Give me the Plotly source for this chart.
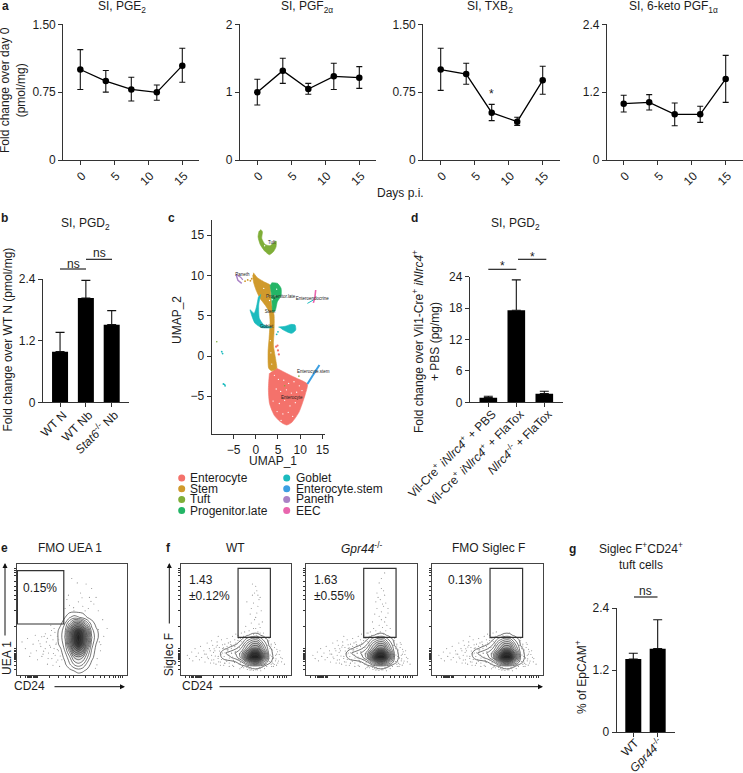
import plotly.graph_objects as go

W, H = 743, 773
FONT = "Liberation Sans"
INK = "#1c1c1c"
AXC = "#333333"

# ---------- panel a ----------
days = [0, 3.75, 7.5, 11.25, 15]
day_ticks = [0, 5, 10, 15]
pge2_mean = [1.00, 0.873, 0.78, 0.748, 1.043]
pge2_hi = [1.22, 0.99, 0.914, 0.829, 1.235]
pge2_lo = [0.78, 0.75, 0.652, 0.66, 0.859]
pgf2a_mean = [1.00, 1.317, 1.047, 1.233, 1.214]
pgf2a_hi = [1.19, 1.50, 1.13, 1.425, 1.376]
pgf2a_lo = [0.81, 1.13, 0.968, 1.04, 1.056]
txb2_mean = [1.00, 0.95, 0.523, 0.424, 0.881]
txb2_hi = [1.235, 1.069, 0.615, 0.472, 1.036]
txb2_lo = [0.77, 0.837, 0.435, 0.383, 0.726]
keto_mean = [0.997, 1.02, 0.808, 0.808, 1.433]
keto_hi = [1.144, 1.156, 1.008, 0.95, 1.85]
keto_lo = [0.85, 0.885, 0.607, 0.666, 1.02]

# ---------- panel b ----------
b_labels = ["WT N", "WT Nb", "<i>Stat6</i><sup>-/-</sup> Nb"]
b_values = [0.986, 2.03, 1.511]
b_upper = [1.362, 2.374, 1.784]

# ---------- panel d ----------
d_labels = ["Vil-Cre<sup>+</sup> <i>iNlrc4</i><sup>+</sup> + PBS",
            "Vil-Cre<sup>+</sup> <i>iNlrc4</i><sup>+</sup> + FlaTox",
            "<i>Nlrc4</i><sup>-/-</sup> + FlaTox"]
d_values = [0.89, 17.6, 1.65]
d_upper = [1.15, 23.4, 2.1]

# ---------- panel g ----------
g_labels = ["WT", "<i>Gpr44</i><sup>-/-</sup>"]
g_values = [1.413, 1.613]
g_upper = [1.523, 2.174]

# ---------- panel c: cluster outlines, UMAP units ----------
cluster_names = ["Enterocyte", "Stem", "Tuft", "Progenitor.late",
                 "Goblet", "Enterocyte.stem", "Paneth", "EEC"]
cluster_colors = ["#F4726B", "#D09A2C", "#7FAE38", "#23B566",
                  "#1BBBBE", "#3C9FE2", "#AA82C6", "#E966AE"]
enterocyte_x = [4.72, 6.22, 7.8, 9.21, 11.61, 11.09, 10.34, 9.7, 8.84, 8.0, 6.97, 6.0, 5.09, 4.2, 3.6, 3.1, 2.92, 2.85, 2.92, 3.07]
enterocyte_y = [-1.53, -1.95, -2.4, -2.77, -3.48, -4.84, -6.09, -7.0, -7.74, -8.3, -8.57, -8.35, -7.95, -7.4, -6.71, -5.9, -5.05, -4.1, -3.19, -2.15]
stem_x = [-0.52, 0.37, 2.10, 3.22, 3.37, 3.60, 4.12, 4.12, 3.97, 4.57, 4.72, 3.60, 2.92, 2.77, 3.00, 3.22, 3.00, 2.10, 0.97, 0.07, -0.52, -0.67]
stem_y = [10.35, 9.73, 9.15, 8.82, 7.58, 6.34, 5.09, 3.02, 1.37, -0.70, -1.53, -1.86, -1.53, 0.54, 2.19, 4.27, 5.51, 6.34, 7.16, 8.20, 9.23, 10.06]
tuft_x = [1.12, 1.50, 1.35, 2.10, 3.22, 4.57, 4.57, 3.97, 3.07, 2.02, 1.0, 0.52, 0.75]
tuft_y = [15.73, 15.45, 14.62, 13.87, 13.71, 14.29, 13.58, 12.96, 12.59, 13.04, 13.87, 14.82, 15.53]
prog_x = [3.60, 4.87, 5.69, 5.69, 4.87, 4.34, 3.82, 3.67, 3.45, 3.22]
prog_y = [9.11, 9.03, 8.41, 7.49, 6.75, 5.59, 5.51, 6.54, 7.91, 8.82]
goblet_a_x = [1.12, 0.67, 0.82, 1.72, 3.60, 1.35, -0.15, -0.82, -1.27, -0.37, 0.07, 0.60]
goblet_a_y = [7.66, 6.34, 4.68, 3.93, 3.52, 3.52, 4.06, 4.89, 5.76, 5.30, 5.92, 7.37]
goblet_b_x = [5.09, 6.59, 7.87, 8.84, 8.99, 8.09, 6.97, 5.84]
goblet_b_y = [3.60, 3.69, 3.93, 3.85, 3.23, 2.82, 3.02, 3.35]
estem_x = [14.31, 12.96, 11.61]
estem_y = [-1.12, -2.36, -3.48]
paneth_a_x = [-4.42, -4.0, -3.15]
paneth_a_y = [10.14, 9.4, 9.03]
paneth_b_x = [-4.42, -3.4, -2.9]
paneth_b_y = [10.14, 9.8, 9.45]
eec_x = [13.48, 13.3, 12.96]
eec_y = [8.2, 7.3, 6.6]
eec_cyan_x = [11.61, 12.96]
eec_cyan_y = [6.54, 6.96]
stray_stem_x = [-2.4, -1.8, -1.2, -0.9]
stray_stem_y = [9.3, 9.45, 9.35, 9.6]
stray_goblet_x = [-7.64, -7.45, -7.27, -7.0, -6.89, 5.0, 4.7]
stray_goblet_y = [0.54, 0.3, -3.48, -3.55, -3.7, 3.0, 2.7]
stray_tuft_x = [-8.76, 6.5, 9.7]
stray_tuft_y = [1.78, -3.7, -2.5]
stray_entero_x = [4.57, 5.0, 5.2, 4.9]
stray_entero_y = [1.16, 0.7, 0.2, 1.3]
white_x = [4.2, 5.1, 6.3, 7.4, 8.6, 9.8, 4.6, 5.6, 6.9, 8.0, 9.2, 10.4, 3.9, 5.3, 6.5, 7.7, 8.9, 4.8, 6.1, 7.3, 8.3, 5.7, 3.6, 3.4, 3.3, 3.7, 1.8, 2.6, 3.1, 4.7, 4.3, 2.5, 3.9, 2.0]
white_y = [-2.4, -2.9, -3.0, -3.4, -3.2, -3.7, -4.1, -4.4, -4.2, -4.6, -4.5, -4.3, -5.6, -5.9, -5.5, -6.2, -5.8, -6.9, -7.2, -7.0, -7.5, -8.0, -1.0, 0.4, 1.9, 7.0, 8.4, 7.4, 6.9, 8.3, 7.5, 14.2, 14.9, 13.7]

cluster_text = ["Tuft", "Paneth", "Progenitor.late", "Enteroendocrine", "Stem", "Goblet", "Enterocyte.stem", "Enterocyte"]
cluster_text_x = [3.6, -3.0, 5.6, 12.7, 3.2, 2.47, 12.95, 8.1]
cluster_text_y = [14.07, 10.06, 7.37, 7.08, 5.43, 3.6, -2.03, -5.26]

# ---------- panels e, f: density grids and events (0-100 box units) ----------
e_grid_x = [36, 40, 44, 48, 52, 56, 60, 64, 68, 72, 76]
e_grid_y = [0, 4, 10, 16, 22, 28, 34, 40, 46, 52, 58]
e_grid_z = [
    [0, 0, 0, 0, 0, 0, 0, 0, 0, 0, 0],
    [0, 0, 0, 0, .3, .6, .4, .1, 0, 0, 0],
    [0, 0, .2, 1, 2, 2.5, 2, .8, .1, 0, 0],
    [0, 0, .5, 1.7, 3.5, 4, 3.5, 2, .5, 0, 0],
    [0, .1, 1.2, 3, 6, 7, 6, 3, 1, 0, 0],
    [0, .6, 1.6, 5, 8, 9.5, 8, 5, 1.5, .3, 0],
    [0, .8, 2, 5.5, 8.5, 10.7, 8.5, 5.5, 2, .6, 0],
    [0, .7, 1.8, 5, 8, 9, 8, 5, 1.5, .5, 0],
    [0, .2, 1.2, 3, 5, 5.5, 4.5, 2.5, .8, .1, 0],
    [0, 0, .3, 1, 1.5, 1.2, .8, .3, 0, 0, 0],
    [0, 0, 0, 0, 0, 0, 0, 0, 0, 0, 0],
]
e_dots_x = [5, 8, 10, 13, 15, 17, 18, 20, 22, 23, 25, 26, 27, 29, 30, 31, 32, 33, 34, 35, 36, 37, 38, 12, 19, 24, 28, 33, 36, 44, 48, 52, 56, 60, 65, 70, 74, 47, 58, 63, 68, 72, 50, 55, 66, 78, 82, 75, 73, 39, 41, 42, 34, 31, 76, 79,
            21.3, 24.6, 27.9, 30.8, 33.4, 35.7, 36.9, 38.2, 39.6, 37.4, 34.8, 31.7, 28.6, 26.1, 22.8, 74.2, 76.3, 72.8, 71.4, 45.6, 51.7, 59.3, 62.1, 67.4]
e_dots_y = [30, 24, 33, 20, 28, 36, 22, 31, 26, 17, 35, 24, 30, 20, 27, 36, 15, 32, 24, 18, 29, 35, 22, 17, 14, 19, 10, 9, 12, 60, 63, 58, 66, 62, 60, 64, 58, 72, 74, 82, 78, 70, 87, 83, 70, 50, 42, 30, 15, 8, 14, 48, 42, 45, 22, 35,
            28.4, 21.7, 33.2, 25.3, 19.6, 27.8, 23.1, 31.9, 17.4, 13.8, 38.6, 40.2, 15.1, 37.3, 34.7, 41.2, 27.6, 9.4, 6.3, 68.1, 60.8, 69.7, 57.9, 66.4]
f_grid_x = [30, 35, 40, 45, 50, 55, 60, 65, 70, 75, 80, 85]
f_grid_y = [4, 8, 12, 16, 20, 24, 28, 32, 36, 40]
f_grid_z = [
    [0, 0, 0, 0, 0, 0, 0, 0, 0, 0, 0, 0],
    [0, 0, 0, 0, 0, 0, .3, .6, .6, .3, 0, 0],
    [0, 0, 0, 0, .3, 1, 3, 5, 5, 3, .5, 0],
    [0, .1, .6, 1, 1.5, 3, 7, 10.7, 10.7, 6, 1, 0],
    [0, .1, 1, 1.5, 2, 3, 6, 9, 9, 5, .8, 0],
    [0, 0, .2, .5, 1, 2, 4, 6, 6, 3, .5, 0],
    [0, 0, 0, 0, .2, 1, 3, 4.5, 4.5, 2, .2, 0],
    [0, 0, 0, 0, 0, .3, 1.5, 2.5, 2.5, 1, 0, 0],
    [0, 0, 0, 0, 0, 0, .2, .5, .5, .1, 0, 0],
    [0, 0, 0, 0, 0, 0, 0, 0, 0, 0, 0, 0],
]
f_dots_x = [6, 8, 10, 11, 13, 14, 16, 17, 18, 19, 21, 22, 23, 24, 25, 26, 27, 28, 29, 30, 31, 32, 33, 34, 35, 36, 37, 38, 39, 40, 41, 42, 43, 44, 45, 46, 47, 48, 49, 50, 51, 52, 53, 54, 55, 56, 57, 58, 60, 62, 64, 68, 72, 76, 78, 79, 80, 81, 82, 83, 84, 85, 86, 87, 88, 90, 92, 94, 28, 34, 38, 42, 46, 50, 54, 30, 36, 44, 48, 52, 40, 47, 55, 82, 84, 80, 86, 78, 83, 77,
            21.5, 24.2, 26.8, 28.1, 29.7, 31.4, 32.2, 33.9, 35.3, 36.6, 37.1, 38.8, 39.4, 40.2, 41.7, 42.3, 43.6, 44.1, 45.9, 46.2, 47.7, 48.3, 49.5, 50.6, 51.2, 52.8, 53.1, 54.7, 55.3, 56.9, 57.4, 58.2, 59.6, 34.5, 37.9, 41.1, 43.2, 46.8, 49.1, 51.9, 54.2, 30.3, 33.1, 36.2, 39.9, 42.8, 45.4, 48.8, 52.3, 55.8, 58.9, 61.2, 63.5, 66.1, 68.7, 71.3, 73.9, 75.2, 77.1, 78.4, 79.6, 80.7, 81.9, 82.6, 83.3, 84.8, 85.1, 86.4, 87.2, 88.6, 89.3, 90.7, 91.5, 78.9, 81.2, 83.7, 85.9, 87.8, 80.1, 82.4, 84.2, 86.9, 76.6, 79.1, 53.7, 57.1, 60.4, 62.9, 65.8, 69.4, 72.6]
f_dots_y = [18, 15, 21, 13, 24, 17, 20, 14, 26, 16, 22, 12, 19, 29, 15, 24, 11, 18, 27, 14, 22, 10, 30, 17, 25, 12, 32, 20, 9, 28, 14, 33, 23, 11, 30, 27, 35, 8, 32, 37, 24, 36, 10, 33, 38, 8, 35, 39, 7, 6, 5, 5, 6, 6, 34, 27, 31, 24, 28, 20, 16, 25, 13, 19, 11, 22, 15, 10, 31, 35, 24, 26, 20, 29, 31, 11, 9, 8, 13, 14, 11, 9, 7, 10, 8, 15, 18, 8, 12, 33,
            19.2, 16.4, 22.1, 13.8, 20.6, 17.3, 25.4, 15.1, 21.9, 18.4, 14.2, 24.6, 16.9, 20.3, 12.7, 22.8, 18.1, 15.6, 24.2, 19.7, 13.4, 27.1, 21.3, 17.8, 28.4, 14.9, 24.9, 19.3, 30.2, 15.7, 26.6, 12.3, 22.4, 12.1, 27.4, 23.6, 29.1, 16.3, 25.8, 31.2, 11.3, 23.8, 26.9, 19.9, 10.8, 20.7, 27.7, 11.6, 33.4, 13.2, 9.4, 8.1, 7.2, 6.3, 5.8, 6.9, 7.4, 8.8, 10.3, 14.6, 20.8, 12.4, 26.3, 17.1, 22.7, 9.7, 29.3, 14.8, 23.4, 12.9, 18.7, 16.2, 12.1, 30.6, 18.3, 10.6, 27.8, 21.1, 33.1, 7.9, 15.4, 9.1, 24.7, 29.9, 5.9, 6.8, 5.2, 4.7, 4.3, 4.9, 4.1]
f_wt_gate_x = [59, 62, 64, 66, 67, 68, 69, 70, 71, 72, 64, 66, 68, 70, 72, 74, 63, 65, 67, 69, 71, 65, 68, 70, 73, 66, 69, 75, 60, 72]
f_wt_gate_y = [44, 40, 47, 37, 50, 42, 56, 39, 46, 38, 60, 65, 52, 62, 70, 48, 55, 72, 74, 76, 68, 82, 80, 72, 58, 42, 36, 38, 66, 43]
f_ko_gate_x = [56, 59, 61, 63, 65, 66, 67, 68, 69, 70, 71, 72, 73, 62, 64, 66, 68, 70, 72, 74, 76, 63, 65, 67, 69, 71, 64, 68, 70, 60, 66, 72, 74, 68, 71]
f_ko_gate_y = [38, 36, 42, 40, 37, 45, 39, 50, 43, 37, 48, 40, 45, 55, 60, 53, 57, 62, 52, 56, 42, 66, 70, 68, 64, 72, 74, 78, 76, 48, 83, 65, 60, 87, 92]
f_fmo_gate_x = [64, 70]
f_fmo_gate_y = [36, 38]
facs_ticks_minor = [4, 8, 10, 11, 12, 13, 14, 15, 16, 17, 18, 19, 30, 38, 44, 48, 52, 62, 70, 76, 80, 84, 88, 90, 92, 94, 96]
facs_yticks = [5, 9, 12, 14, 15, 16, 17, 18, 19, 20, 21, 22, 24, 44, 58, 68, 72, 76, 80, 84, 90, 92, 94, 96]

traces = []
layout = {}
annots = []
shapes = []


def X(p):
    return p / W


def Y(p):
    return 1 - p / H


def ann(text, x, y, size=12, angle=0, xa="center", ya="middle", bold=False, color=INK, align="center"):
    if bold:
        text = "<b>" + text + "</b>"
    annots.append(dict(text=text, x=X(x), y=Y(y), xref="paper", yref="paper", showarrow=False,
                       font=dict(size=size, family=FONT, color=color), textangle=angle,
                       xanchor=xa, yanchor=ya, align=align))


def arrow(x0, y0, x1, y1):
    annots.append(dict(text="", x=X(x1), y=Y(y1), xref="paper", yref="paper", axref="pixel", ayref="pixel",
                       ax=x0 - x1, ay=y0 - y1, showarrow=True, arrowhead=2, arrowsize=1, arrowwidth=1,
                       arrowcolor="#111111"))


def hline(x0, x1, y, color="#111111", w=1.1):
    shapes.append(dict(type="line", xref="paper", yref="paper", x0=X(x0), x1=X(x1), y0=Y(y), y1=Y(y),
                       line=dict(color=color, width=w)))


def axes(n, l, r, t, b, xr, yr, xo=None, yo=None):
    base = dict(showgrid=False, zeroline=False, showline=True, linecolor=AXC, linewidth=1.3, automargin=False,
                ticks="outside", ticklen=4, tickwidth=1, tickcolor=AXC,
                tickfont=dict(size=12, family=FONT, color=INK))
    xd = dict(base, domain=[X(l), X(r)], range=xr, anchor=f"y{n}")
    yd = dict(base, domain=[Y(b), Y(t)], range=yr, anchor=f"x{n}")
    xd.update(xo or {})
    yd.update(yo or {})
    layout[f"xaxis{n}"] = xd
    layout[f"yaxis{n}"] = yd


def line_panel(n, l, x0px, x15px, r, mean, hi, lo, ymax, yticks, ytext):
    pxu = (x15px - x0px) / 15
    axes(n, l, r, 24.3, 160, [(l - x0px) / pxu, (r - x0px) / pxu], [0, ymax],
         dict(tickvals=day_ticks, tickangle=-45, ticklabelshift=2, ticklabelstandoff=-1),
         dict(tickvals=yticks, ticktext=ytext))
    traces.append(go.Scatter(x=days, y=mean, mode="lines+markers", xaxis=f"x{n}", yaxis=f"y{n}",
                             line=dict(color="#000000", width=1.3), marker=dict(color="#000000", size=6.5),
                             error_y=dict(type="data", symmetric=False,
                                          array=[a - b for a, b in zip(hi, mean)],
                                          arrayminus=[b - a for a, b in zip(lo, mean)],
                                          color="#111111", thickness=1.1, width=3),
                             cliponaxis=False, showlegend=False))


line_panel(1, 63.3, 80.3, 182.3, 199.3, pge2_mean, pge2_hi, pge2_lo, 1.5, [0, 0.75, 1.5], ["0", "0.75", "1.50"])
line_panel(2, 240, 257.3, 359.3, 376.3, pgf2a_mean, pgf2a_hi, pgf2a_lo, 2, [0, 1, 2], ["0", "1", "2"])
line_panel(3, 423.3, 440.7, 542.7, 560, txb2_mean, txb2_hi, txb2_lo, 1.5, [0, 0.75, 1.5], ["0", "0.75", "1.50"])
line_panel(4, 607, 623.7, 725.7, 742.7, keto_mean, keto_hi, keto_lo, 2.4, [0, 1.2, 2.4], ["0", "1.2", "2.4"])


def bar_panel(n, l, r, t, b, xr, labels, values, upper, ymax, yticks, ytext, width, cap, shift, standoff):
    axes(n, l, r, t, b, xr, [0, ymax],
         dict(tickvals=list(range(len(labels))), ticktext=labels, tickangle=-45,
              ticklabelshift=shift, ticklabelstandoff=standoff),
         dict(tickvals=yticks, ticktext=ytext))
    traces.append(go.Bar(x=list(range(len(labels))), y=values, width=width, xaxis=f"x{n}", yaxis=f"y{n}",
                         marker=dict(color="#000000", line=dict(width=0)),
                         error_y=dict(type="data", symmetric=False, array=[u - v for u, v in zip(upper, values)],
                                      arrayminus=[0] * len(values), color="#111111", thickness=1.1, width=cap),
                         cliponaxis=False, showlegend=False))


bar_panel(5, 43, 129, 279, 402.3, [-0.66, 2.67], b_labels, b_values, b_upper, 2.4, [0, 1.2, 2.4], ["0", "1.2", "2.4"], 0.62, 4.5, 3, -4)
bar_panel(7, 470, 562.7, 276.7, 402.3, [-0.654, 2.657], d_labels, d_values, d_upper, 24, [0, 6, 12, 18, 24], ["0", "6", "12", "18", "24"], 0.63, 4.5, 4, -5)
bar_panel(12, 616.7, 675, 608, 732, [-0.68, 1.71], g_labels, g_values, g_upper, 2.4, [0, 1.2, 2.4], ["0", "1.2", "2.4"], 0.656, 4.5, 2, -6)

# ---------- UMAP ----------
axes(6, 211.7, 325, 220, 434, [-9.9, 15.57], [-9.69, 16.9],
     dict(tickvals=[-5, 0, 5, 10, 15]), dict(tickvals=[-5, 0, 5, 10, 15]))


def poly(x, y, color):
    traces.append(go.Scatter(x=x, y=y, mode="lines", fill="toself", fillcolor=color, xaxis="x6", yaxis="y6",
                             line=dict(color=color, width=0.6, shape="spline", smoothing=0.6), showlegend=False))


def stroke(x, y, color, w):
    traces.append(go.Scatter(x=x, y=y, mode="lines", xaxis="x6", yaxis="y6",
                             line=dict(color=color, width=w), showlegend=False))


def dots(x, y, color, size, xa="x6", ya="y6"):
    traces.append(go.Scatter(x=x, y=y, mode="markers", xaxis=xa, yaxis=ya,
                             marker=dict(color=color, size=size, line=dict(width=0)), showlegend=False))


poly(enterocyte_x, enterocyte_y, cluster_colors[0])
poly(stem_x, stem_y, cluster_colors[1])
poly(tuft_x, tuft_y, cluster_colors[2])
poly(prog_x, prog_y, cluster_colors[3])
poly(goblet_a_x, goblet_a_y, cluster_colors[4])
poly(goblet_b_x, goblet_b_y, cluster_colors[4])
stroke(estem_x, estem_y, cluster_colors[5], 2)
stroke(paneth_a_x, paneth_a_y, cluster_colors[6], 1.5)
stroke(paneth_b_x, paneth_b_y, cluster_colors[6], 1.2)
stroke(eec_x, eec_y, cluster_colors[7], 1.6)
stroke(eec_cyan_x, eec_cyan_y, cluster_colors[4], 1)
dots(stray_stem_x, stray_stem_y, cluster_colors[1], 1.8)
dots(stray_goblet_x, stray_goblet_y, cluster_colors[4], 1.8)
dots(stray_tuft_x, stray_tuft_y, cluster_colors[2], 1.6)
dots(stray_entero_x, stray_entero_y, cluster_colors[0], 2.2)
dots(white_x, white_y, "#ffffff", 1.3)
traces.append(go.Scatter(x=cluster_text_x, y=cluster_text_y, text=cluster_text, mode="text", xaxis="x6", yaxis="y6",
                         cliponaxis=False, textfont=dict(size=4.5, family=FONT, color="#222222"), showlegend=False))

# legend of panel c
leg_left = cluster_names[:4]
leg_right = cluster_names[4:]
leg_rows = [478, 488.7, 499.4, 510.6]
for i, name in enumerate(leg_left):
    ann(name, 187.7, leg_rows[i], xa="left")
    shapes.append(dict(type="circle", xref="paper", yref="paper", x0=X(178.2), x1=X(185.2), y0=Y(leg_rows[i] + 3.5),
                       y1=Y(leg_rows[i] - 3.5), fillcolor=cluster_colors[i], line=dict(width=0)))
for i, name in enumerate(leg_right):
    ann(name, 294, leg_rows[i], xa="left")
    shapes.append(dict(type="circle", xref="paper", yref="paper", x0=X(283.2), x1=X(290.2), y0=Y(leg_rows[i] + 3.5),
                       y1=Y(leg_rows[i] - 3.5), fillcolor=cluster_colors[i + 4], line=dict(width=0)))

# ---------- flow plots ----------
CSCALE = [[0, "#ffffff"], [0.25, "#ffffff"], [0.55, "#9a9a9a"], [0.8, "#333333"], [0.93, "#222222"], [1, "#ffffff"]]


def facs(n, l, r, gx, gy, gridx, gridy, gridz, dx, dy, extra_x=None, extra_y=None):
    fo = dict(showticklabels=False, mirror=True, ticklen=2, tickwidth=0.8, linecolor="#444444", linewidth=1)
    axes(n, l, r, 564, 675.3, [0, 100], [0, 100], dict(fo, tickvals=facs_ticks_minor), dict(fo, tickvals=facs_yticks))
    traces.append(go.Contour(x=gridx, y=gridy, z=gridz, xaxis=f"x{n}", yaxis=f"y{n}", showscale=False,
                             zmin=0, zmax=11, colorscale=CSCALE, hoverinfo="skip",
                             contours=dict(start=0.3, end=10.7, size=0.8, coloring="fill", showlines=True),
                             line=dict(color="#3a3a3a", width=0.7, smoothing=1)))
    dots(dx, dy, "#8f8f8f", 1.1, f"x{n}", f"y{n}")
    if extra_x:
        dots(extra_x, extra_y, "#8f8f8f", 1.1, f"x{n}", f"y{n}")
    shapes.append(dict(type="rect", xref=f"x{n}", yref=f"y{n}", x0=gx[0], x1=gx[1], y0=gy[0], y1=gy[1],
                       line=dict(color="#333333", width=1.2)))


facs(8, 16.5, 127, [0.8, 42.8], [46.1, 94], e_grid_x, e_grid_y, e_grid_z, e_dots_x, e_dots_y)
facs(9, 180.7, 291, [52, 81.3], [34.1, 96.1], f_grid_x, f_grid_y, f_grid_z, f_dots_x, f_dots_y, f_wt_gate_x, f_wt_gate_y)
facs(10, 306.3, 416.7, [52, 81.3], [34.1, 96.1], f_grid_x, f_grid_y, f_grid_z, f_dots_x, f_dots_y, f_ko_gate_x, f_ko_gate_y)
facs(11, 432.3, 542.7, [52.3, 81.8], [34.1, 96.1], f_grid_x, f_grid_y, f_grid_z, f_dots_x, f_dots_y, f_fmo_gate_x, f_fmo_gate_y)

# ---------- text ----------
ann("a", 5, 6, bold=True)
ann("b", 4, 218, bold=True)
ann("c", 171, 218, bold=True)
ann("d", 414, 218, bold=True)
ann("e", 4, 548, bold=True)
ann("f", 168, 548, bold=True)
ann("g", 572, 549, bold=True)

ann("SI, PGE<sub>2</sub>", 121.7, 7)
ann("SI, PGF<sub>2α</sub>", 306.7, 7)
ann("SI, TXB<sub>2</sub>", 490, 7)
ann("SI, 6-keto PGF<sub>1α</sub>", 673, 7)
ann("Fold change over day 0<br>(pmol/mg)", 13, 90, angle=-90)
ann("Days p.i.", 400, 193)
ann("*", 491.5, 94)

ann("SI, PGD<sub>2</sub>", 85, 223.5)
ann("Fold change over WT N (pmol/mg)", 7.5, 340, angle=-90)
hline(60, 86, 269)
hline(86, 112, 259.3)
ann("ns", 73, 264)
ann("ns", 99, 253)

ann("UMAP_2", 177, 320, angle=-90)
ann("UMAP_1", 273, 460.7)

ann("SI, PGD<sub>2</sub>", 515.7, 223.5)
ann("Fold change over Vil1-Cre<sup>+</sup> <i>iNlrc4</i><sup>+</sup><br>+ PBS (pg/mg)", 426, 341, angle=-90)
hline(488.3, 516.3, 269.3)
hline(518, 546.3, 259.3)
ann("*", 502, 266)
ann("*", 532, 256.5)

ann("FMO UEA 1", 70, 548)
ann("0.15%", 40, 588)
ann("UEA 1", 7, 658, angle=-90)
ann("CD24", 30, 686)
arrow(5, 637, 5, 563)
arrow(53, 686.7, 125, 686.7)

ann("WT", 235.3, 548)
ann("<i>Gpr44</i><sup>-/-</sup>", 361, 548)
ann("FMO Siglec F", 488, 548)
ann("1.43<br>±0.12%", 187, 587.5, xa="left", align="left")
ann("1.63<br>±0.55%", 312, 587.5, xa="left", align="left")
ann("0.13%", 465.3, 580)
ann("Siglec F", 169.3, 655, angle=-90)
ann("CD24", 197.7, 686)
arrow(169.3, 625, 169.3, 563)
arrow(218, 686.7, 543, 686.7)

ann("Siglec F<sup>+</sup>CD24<sup>+</sup><br>tuft cells", 640.7, 555.5)
ann("% of EpCAM<sup>+</sup>", 581, 677, angle=-90)
hline(634, 657.5, 597)
ann("ns", 645, 591)

fig = go.Figure(data=traces)
fig.update_layout(width=W, height=H, margin=dict(l=0, r=0, t=0, b=0), autosize=False,
                  paper_bgcolor="#ffffff", plot_bgcolor="#ffffff", showlegend=False,
                  font=dict(family=FONT, size=12, color=INK), annotations=annots, shapes=shapes, **layout)
fig.write_html("out.html", post_script="document.body.style.margin='0';", config=dict(displayModeBar=False))
